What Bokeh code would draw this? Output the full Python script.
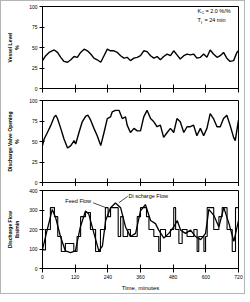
from bokeh.plotting import figure
from bokeh.layouts import column
from bokeh.models import FixedTicker
from bokeh.core.properties import value
from bokeh.embed import file_html
from bokeh.resources import INLINE

# ---- data ----
time_ticks = [0, 120, 240, 360, 480, 600, 720]
level_ticks = [0, 25, 50, 75, 100]
flow_ticks = [0, 100, 200, 300, 400]

level_t = [0, 12, 24, 43, 55, 67, 79, 92, 104, 116, 128, 140, 153, 165, 177, 189, 201, 214, 226, 238,
           250, 262, 275, 287, 299, 311, 323, 336, 348, 360, 372, 384, 397, 409, 421, 433, 445, 458, 470, 482,
           494, 506, 519, 531, 543, 555, 567, 580, 592, 604, 616, 628, 641, 653, 665, 677, 689, 702, 714, 720]
level_v = [34, 40, 44, 47, 44, 38, 33, 32, 35, 39, 38, 44, 48, 46, 42, 37, 35, 32, 40, 48,
           46, 46, 44, 40, 37, 38, 34, 37, 38, 40, 46, 45, 40, 37, 39, 35, 39, 42, 40, 46,
           41, 36, 40, 42, 41, 42, 37, 38, 42, 38, 47, 42, 38, 40, 44, 37, 33, 34, 44, 46]

valve_t = [0, 6, 18, 31, 43, 49, 55, 67, 79, 92, 104, 116, 122, 134, 146, 159, 167, 177, 189, 201,
           214, 226, 238, 250, 256, 268, 281, 293, 305, 311, 323, 336, 348, 360, 372, 384, 397, 409, 421, 433,
           445, 458, 470, 482, 494, 506, 519, 531, 543, 555, 567, 580, 592, 604, 616, 628, 641, 653, 665, 677,
           689, 702, 708, 720]
valve_v = [45, 53, 61, 70, 80, 82, 78, 66, 53, 42, 45, 51, 47, 61, 74, 81, 82, 76, 66, 57,
           45, 61, 78, 80, 86, 88, 88, 78, 80, 70, 61, 66, 63, 63, 80, 88, 78, 74, 68, 70,
           55, 61, 66, 61, 78, 74, 61, 68, 68, 70, 57, 66, 57, 66, 84, 78, 68, 68, 78, 82,
           70, 55, 51, 76]

discharge_t = [0, 17, 36, 48, 66, 84, 103, 121, 139, 158, 170, 189, 207, 220, 232, 250, 268, 287, 305, 323,
               342, 360, 378, 397, 415, 427, 446, 464, 482, 495, 507, 525, 544, 562, 581, 599, 611, 630, 648, 666,
               685, 703, 720]
discharge_v = [98, 197, 303, 262, 164, 90, 82, 90, 213, 295, 279, 180, 90, 115, 246, 312, 336, 312, 213, 164,
               180, 295, 328, 246, 230, 197, 156, 180, 213, 246, 197, 180, 197, 164, 148, 180, 303, 271, 213, 312,
               230, 139, 246]

feed_t = [0, 11, 29, 44, 56, 69, 84, 115, 127, 140, 158, 176, 195, 213, 231, 241, 250, 278, 287, 296,
          313, 323, 348, 360, 382, 391, 409, 427, 433, 452, 470, 482, 489, 501, 513, 531, 556, 568, 574, 593,
          599, 605, 629, 648, 660, 678, 697, 709, 720]
feed_v = [95, 200, 312, 266, 164, 87, 128, 87, 164, 266, 287, 200, 87, 200, 312, 266, 312, 164, 266, 164,
          200, 164, 266, 312, 266, 200, 164, 87, 200, 164, 200, 312, 200, 128, 200, 164, 200, 87, 164, 87,
          164, 312, 200, 266, 312, 200, 87, 312, 312]

FONT = "Liberation Sans"


def make_fig(height, top, bottom, ymax, yticks, ylabel, xlabel=None):
    p = figure(width=243, height=height, x_range=(0, 720), y_range=(0, ymax),
               output_backend="svg", toolbar_location=None,
               min_border_left=41, min_border_right=6,
               min_border_top=top, min_border_bottom=bottom)
    p.grid.visible = False
    p.outline_line_color = "black"
    p.outline_line_width = 1
    p.background_fill_color = "white"
    p.border_fill_color = "white"

    ya = p.yaxis[0]
    ya.ticker = FixedTicker(ticks=yticks)
    ya.minor_tick_line_color = None
    ya.major_tick_in = 2
    ya.major_tick_out = 3
    ya.axis_line_color = "black"
    ya.major_tick_line_color = "black"
    ya.major_label_text_font = FONT
    ya.major_label_text_font_size = "5px"
    ya.major_label_text_color = "black"
    ya.major_label_standoff = 2
    ya.axis_label = ylabel
    ya.axis_label_text_font = FONT
    ya.axis_label_text_font_size = "5px"
    ya.axis_label_text_font_style = "bold"
    ya.axis_label_text_color = "black"
    ya.axis_label_standoff = 6

    xa = p.xaxis[0]
    xa.ticker = FixedTicker(ticks=time_ticks)
    xa.minor_tick_line_color = None
    xa.major_tick_in = 4
    xa.major_tick_out = 4
    xa.axis_line_color = "black"
    xa.major_tick_line_color = "black"
    xa.major_label_text_font = FONT
    if xlabel is None:
        # ticks only, labels not drawn
        xa.major_label_text_font_size = "1px"
        xa.major_label_text_color = None
        xa.major_label_standoff = 0
    else:
        xa.major_label_text_color = "black"
        xa.major_label_text_font_size = "5px"
        xa.major_label_standoff = 2
        xa.axis_label = xlabel
        xa.axis_label_text_font = FONT
        xa.axis_label_text_font_size = "6px"
        xa.axis_label_text_font_style = "normal"
        xa.axis_label_text_color = "black"
        xa.axis_label_standoff = 3
    return p


# Panel 1: vessel level
p1 = make_fig(93, 5, 6, 100, level_ticks, "Vessel Level\n%")
p1.line(level_t, level_v, line_color="black", line_width=1.4)
p1.text(x=[569], y=[95], text=["K"], text_font=value(FONT), text_font_size="5.5px",
        text_baseline="middle", text_color="black")
p1.text(x=[569], y=[95], text=["C"], text_font=value(FONT), text_font_size="4px",
        text_baseline="middle", text_color="black", x_offset=4, y_offset=2)
p1.text(x=[569], y=[95], text=["= 2.0 %/%"], text_font=value(FONT), text_font_size="5.5px",
        text_baseline="middle", text_color="black", x_offset=8)
p1.text(x=[569], y=[83], text=["T"], text_font=value(FONT), text_font_size="5.5px",
        text_baseline="middle", text_color="black")
p1.text(x=[569], y=[83], text=["I"], text_font=value(FONT), text_font_size="4px",
        text_baseline="middle", text_color="black", x_offset=3.5, y_offset=2)
p1.text(x=[569], y=[83], text=["= 24 min"], text_font=value(FONT), text_font_size="5.5px",
        text_baseline="middle", text_color="black", x_offset=7)

# Panel 2: discharge valve opening
p2 = make_fig(92, 6, 4, 100, level_ticks, "Discharge Valve Opening\n%")
p2.line(valve_t, valve_v, line_color="black", line_width=1.4)

# Panel 3: flows
p3 = make_fig(107, 4, 21, 400, flow_ticks, "Discharge Flow\nlbs/min", "Time, minutes")
p3.step(feed_t, feed_v, mode="after", line_color="black", line_width=1.1)
p3.line(discharge_t, discharge_v, line_color="black", line_width=1.3)
p3.text(x=[84], y=[345], text=["Feed Flow"], text_font=value(FONT), text_font_size="5.5px",
        text_baseline="middle", text_color="black")
p3.line([186, 231], [337, 313], line_color="black", line_width=0.7)
p3.text(x=[316], y=[374], text=["Di scharge Flow"], text_font=value(FONT), text_font_size="5.5px",
        text_baseline="middle", text_color="black")
p3.line([313, 280], [370, 337], line_color="black", line_width=0.7)

layout = column(p1, p2, p3, spacing=0,
                styles={"border": "1px solid #b4b4b4", "background-color": "white"})

open("out.html", "w").write(file_html(layout, INLINE))
